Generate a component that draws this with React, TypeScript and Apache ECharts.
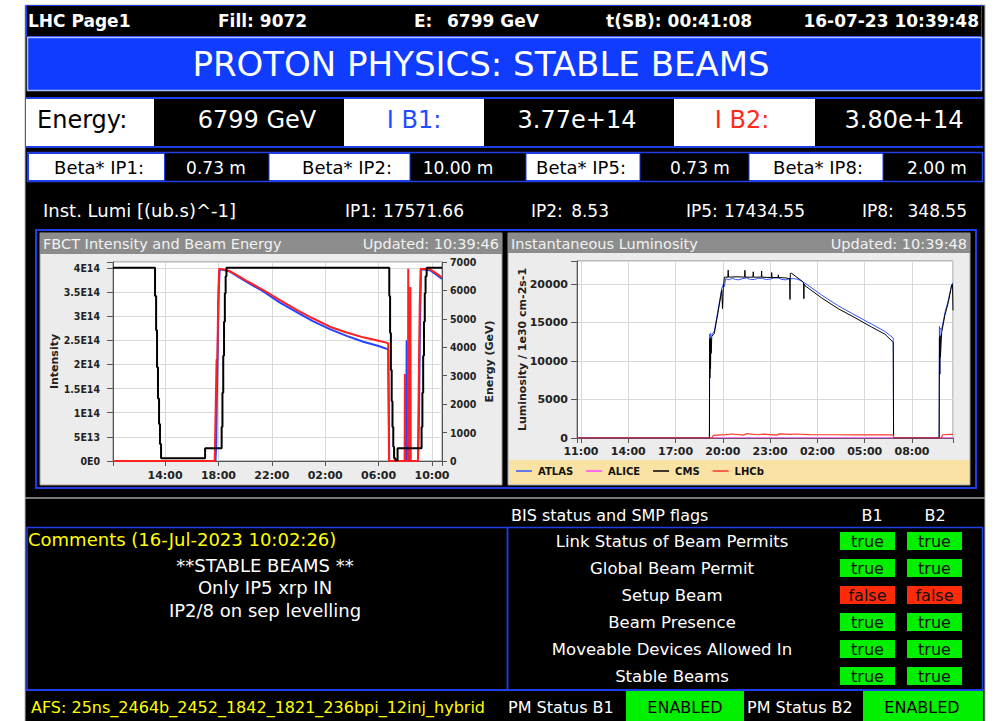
import { useEffect, useRef } from 'react';
import * as echarts from 'echarts';

const FONT = '"DejaVu Sans", "Noto Sans", sans-serif';
const FONT_COND = '"DejaVu Sans Condensed", "DejaVu Sans", sans-serif';
// axis value = hours since 15-Jul-2023 00:00 minus this shift (so that ticks fall on 14:00, 18:00 ... / 11:00, 14:00 ...)
const HOUR_SHIFT = 2;

// ---------------- FBCT intensity & beam energy (hours since 15-Jul 00:00) ----------------
const energyHours = [10.1, 13.25, 13.33, 13.4, 13.47, 13.55, 13.62, 13.7, 17.0, 18.24, 18.3, 18.36, 18.42, 18.48, 18.54, 18.6,
  30.8, 30.86, 30.92, 30.98, 31.04, 31.1, 31.16, 31.25, 31.42, 33.22, 33.28, 33.34, 33.4, 33.46, 33.52, 33.6, 34.75];
const energyGeV = [6799, 5800, 4600, 3300, 2200, 1300, 600, 100, 450, 1200, 2400, 3700, 4900, 5900, 6500, 6799,
  5800, 4500, 3200, 2100, 1200, 500, 100, 30, 450, 1200, 2400, 3700, 4900, 5900, 6500, 6799, 6799];

const b1Hours = [10.1, 17.78, 17.84, 17.88, 17.93, 17.98, 18.03, 18.1, 18.5, 18.86, 20.11, 21.36, 22.61, 23.86, 25.1, 26.35,
  27.6, 28.85, 30.0, 30.72, 30.8, 32.08, 32.1, 32.12, 32.14, 32.95, 33.0, 33.05, 33.1, 33.18, 33.85, 34.3, 34.75];
const b1Intensity = [0, 0, 0.4e14, 1.3e14, 2.0e14, 2.9e14, 3.6e14, 3.97e14, 3.95e14, 3.92e14, 3.71e14, 3.51e14, 3.28e14, 3.08e14, 2.89e14, 2.73e14,
  2.59e14, 2.47e14, 2.38e14, 2.31e14, 0, 0, 2.5e14, 0.8e14, 0, 0, 0.5e14, 1.5e14, 2.8e14, 3.97e14, 3.95e14, 3.86e14, 3.77e14];

const b2Hours = [10.1, 17.72, 17.76, 17.8, 17.86, 17.92, 17.98, 18.05, 18.5, 18.86, 20.11, 21.36, 22.61, 23.86, 25.1, 26.35,
  27.6, 28.85, 30.0, 30.72, 30.78, 31.95, 31.97, 31.99, 32.2, 32.22, 32.25, 32.36, 32.38, 32.41, 32.95, 32.98, 33.02, 33.08,
  33.15, 33.85, 34.3, 34.75];
const b2Intensity = [0, 0, 0.6e14, 0.6e14, 2.1e14, 2.1e14, 3.3e14, 3.98e14, 3.96e14, 3.93e14, 3.73e14, 3.54e14, 3.33e14, 3.13e14, 2.95e14, 2.78e14,
  2.66e14, 2.56e14, 2.49e14, 2.44e14, 0, 0, 1.8e14, 0, 0, 3.98e14, 0, 0, 3.6e14, 0, 0, 0.9e14, 1.9e14, 3.2e14,
  3.98e14, 3.97e14, 3.89e14, 3.80e14];

// ---------------- Instantaneous luminosity (hours since 15-Jul 00:00) ----------------
const atlasHours = [10.75, 19.15, 19.17, 19.19, 19.21, 19.25, 19.3, 19.46, 19.71, 19.93, 20.03, 20.1, 20.18, 20.4, 20.6, 20.8,
  21.0, 21.25, 21.5, 21.75, 22.0, 22.25, 22.5, 22.75, 23.0, 23.25, 23.5, 23.75, 24.0, 24.25, 24.5, 24.7, 24.89, 25.21, 26.27,
  27.32, 28.38, 29.44, 30.28, 30.81, 30.83, 33.72, 33.74, 33.76, 33.78, 33.88, 34.09, 34.3, 34.51, 34.6];
const atlasLumi = [0, 0, 13500, 9000, 13600, 13300, 13400, 13900, 16800, 19400, 19900, 19700, 20700, 20550, 20750, 20600,
  20550, 20700, 20800, 20600, 20600, 20750, 20750, 20600, 20650, 20800, 20800, 20600, 20550, 20700, 20700, 20650, 20500, 20130, 18570,
  17180, 15970, 14800, 13850, 12990, 0, 0, 14500, 8300, 14300, 14100, 16300, 17900, 19900, 20200];

const aliceHours = [10.75, 19.2, 19.25, 30.81, 30.83, 33.75, 33.8, 34.6];
const aliceLumi = [0, 0, 10, 10, 0, 0, 8, 9];

const cmsHours = [10.75, 19.15, 19.16, 19.18, 19.2, 19.22, 19.24, 19.26, 19.3, 19.46, 19.71, 19.93, 19.98, 20.03, 20.1, 20.18,
  20.32, 20.34, 20.36, 20.9, 21.38, 21.4, 21.42, 21.91, 21.93, 21.95, 22.44, 22.46, 22.48, 23.08, 23.1, 23.12, 23.5, 23.52,
  23.54, 24.0, 24.24, 24.26, 24.28, 24.36, 24.89, 25.12, 25.14, 25.16, 25.21, 26.27, 27.32, 28.38, 29.44, 30.28, 30.81, 30.83,
  33.72, 33.74, 33.76, 33.78, 33.8, 33.88, 34.09, 34.3, 34.51, 34.57, 34.6];
const cmsLumi = [0, 0, 12800, 7800, 13000, 9000, 12900, 11000, 13200, 13600, 16500, 19200, 16800, 19500, 20900, 20900,
  20900, 21800, 20900, 20950, 20900, 21800, 20900, 20900, 21600, 20900, 20900, 21700, 20900, 20850, 21500, 20850, 20850, 21200,
  20850, 20800, 20700, 18000, 21400, 21400, 20600, 20200, 18100, 20000, 19800, 18200, 16800, 15630, 14410, 13500, 12420, 0,
  0, 13000, 8300, 13300, 10500, 13700, 16000, 17600, 19800, 20000, 16600];

const lhcbHours = [10.75, 19.3, 19.4, 20.2, 20.6, 21.3, 21.5, 22.2, 22.6, 23.4, 23.6, 24.3, 24.6, 25.5, 27.0, 28.5, 30.0,
  30.81, 30.83, 33.85, 33.95, 34.6];
const lhcbLumi = [0, 0, 350, 450, 520, 380, 560, 420, 500, 380, 540, 470, 520, 430, 420, 410, 400, 400, 0, 0, 420, 480];

// ---------------- page texts ----------------
const topBar = { page: 'LHC Page1', fill: 'Fill: 9072', eLabel: 'E:', eValue: '6799 GeV', tsb: 't(SB): 00:41:08', date: '16-07-23 10:39:48' };
const bannerText = 'PROTON PHYSICS: STABLE BEAMS';
const betaLabels = ['Beta* IP1:', 'Beta* IP2:', 'Beta* IP5:', 'Beta* IP8:'];
const betaValues = ['0.73 m', '10.00 m', '0.73 m', '2.00 m'];
const lumiIPs = ['IP1:', 'IP2:', 'IP5:', 'IP8:'];
const lumiValues = ['17571.66', '8.53', '17434.55', '348.55'];
const commentLines = ['**STABLE BEAMS **', 'Only IP5 xrp IN', 'IP2/8 on sep levelling'];
const flagNames = ['Link Status of Beam Permits', 'Global Beam Permit', 'Setup Beam', 'Beam Presence', 'Moveable Devices Allowed In', 'Stable Beams'];
const flagB1 = [true, true, false, true, true, true];
const flagB2 = [true, true, false, true, true, true];

const BLUE_LINE = '#1f3fe6';
const BANNER = '#0f3cff';
const GREEN = '#00f000';
const RED_BOX = '#ff2a0a';

const R = (x: number, y: number, w: number, h: number, fill: string, stroke?: string, lw = 1) => ({
  type: 'rect', z: -5, silent: true, shape: { x, y, width: w, height: h },
  style: { fill, stroke: stroke || 'none', lineWidth: stroke ? lw : 0 },
});
const L = (x1: number, y1: number, x2: number, y2: number, stroke: string, lw = 1) => ({
  type: 'line', z: -5, silent: true, shape: { x1, y1, x2, y2 }, style: { stroke, lineWidth: lw },
});
const T = (text: string, x: number, y: number, size: number, fill: string, align = 'left', weight = 'normal') => ({
  type: 'text', z: -4, silent: true, x, y,
  style: { text, fill, font: `${weight} ${size}px ${FONT}`, textAlign: align, textVerticalAlign: 'middle', align, verticalAlign: 'middle' },
});

function buildGraphics() {
  const g: any[] = [];
  // frame
  g.push(R(25, 5, 960, 720, '#000', '#bdbdbd', 1));
  // top bar
  g.push(R(26.5, 5.5, 955, 31, '#000', BLUE_LINE, 1));
  g.push(T(topBar.page, 28, 21, 17, '#fff', 'left', 'bold'));
  g.push(T(topBar.fill, 218, 21, 17, '#fff', 'left', 'bold'));
  g.push(T(topBar.eLabel, 414, 21, 17, '#fff', 'left', 'bold'));
  g.push(T(topBar.eValue, 447, 21, 17, '#fff', 'left', 'bold'));
  g.push(T(topBar.tsb, 606, 21, 17, '#fff', 'left', 'bold'));
  g.push(T(topBar.date, 979, 21, 17, '#fff', 'right', 'bold'));
  // banner
  g.push(R(27.5, 37.5, 954, 53, BANNER, '#a8c0ff', 1.5));
  g.push(T(bannerText, 481, 64, 34, '#fff', 'center'));
  // energy / intensity row
  g.push(R(26, 99, 128, 47, '#fff'));
  g.push(R(344, 99, 140, 47, '#fff'));
  g.push(R(674, 99, 141, 47, '#fff'));
  g.push(L(26, 98, 983, 98, BLUE_LINE, 2));
  g.push(L(26, 147, 983, 147, BLUE_LINE, 2));
  g.push(T('Energy:', 37, 120, 24, '#000'));
  g.push(T('6799 GeV', 257, 120, 24, '#fff', 'center'));
  g.push(T('I B1:', 414, 120, 24, '#1f4dff', 'center'));
  g.push(T('3.77e+14', 577, 120, 24, '#fff', 'center'));
  g.push(T('I B2:', 742, 120, 24, '#ff2a1a', 'center'));
  g.push(T('3.80e+14', 904, 120, 24, '#fff', 'center'));
  // beta* row
  g.push(R(27.5, 152.5, 955, 29, '#000', BLUE_LINE, 1.5));
  const betaBoxes = [[28.5, 136], [269, 141], [526, 114], [749, 134]];
  const betaLabelX = [99, 347, 581, 818];
  const betaValueX = [216, 458, 700, 937];
  betaBoxes.forEach(([x, w]) => g.push(R(x, 153.5, w, 27, '#fff', BLUE_LINE, 1)));
  betaLabels.forEach((t, i) => g.push(T(t, betaLabelX[i], 167, 18, '#000', 'center')));
  betaValues.forEach((t, i) => g.push(T(t, betaValueX[i], 168, 17, '#fff', 'center')));
  // inst lumi row
  g.push(T('Inst. Lumi [(ub.s)^-1]', 43, 210, 18, '#fff'));
  const ipX = [345, 531, 686, 862];
  const valRight = [464, 609, 805, 967];
  lumiIPs.forEach((t, i) => g.push(T(t, ipX[i], 211, 17, '#fff')));
  lumiValues.forEach((t, i) => g.push(T(t, valRight[i], 211, 17, '#fff', 'right')));
  // chart panels
  g.push(R(36, 230, 940, 258, 'none', BLUE_LINE, 2));
  g.push(R(40, 233, 462, 252, '#ececec', '#9a9a9a', 1));
  g.push(R(40, 233, 462, 21, '#8c8c8c'));
  g.push(T('FBCT Intensity and Beam Energy', 43, 243.5, 14.5, '#f2f2f2'));
  g.push(T('Updated: 10:39:46', 499, 243.5, 14.5, '#f2f2f2', 'right'));
  g.push(R(508, 233, 462, 252, '#ececec', '#9a9a9a', 1));
  g.push(R(508, 233, 462, 20, '#8c8c8c'));
  g.push(R(509, 460, 460, 24, '#f9e2a4'));
  g.push(T('Instantaneous Luminosity', 511, 243.5, 14.5, '#f2f2f2'));
  g.push(T('Updated: 10:39:48', 967, 243.5, 14.5, '#f2f2f2', 'right'));
  // separator
  g.push(L(25, 498, 985, 498, '#a0a0a0', 1.5));
  // BIS header
  g.push(T('BIS status and SMP flags', 511, 515, 16, '#fff'));
  g.push(T('B1', 872, 515, 16, '#fff', 'center'));
  g.push(T('B2', 935, 515, 16, '#fff', 'center'));
  // comments & flags boxes
  g.push(R(27, 527.5, 480.5, 162.5, 'none', BLUE_LINE, 1.5));
  g.push(R(507.5, 527.5, 475, 162.5, 'none', BLUE_LINE, 1.5));
  g.push(T('Comments (16-Jul-2023 10:02:26)', 28, 539, 18, '#ffff00'));
  commentLines.forEach((t, i) => g.push(T(t, 265, 565 + i * 22.5, 18, '#fff', 'center')));
  flagNames.forEach((name, i) => {
    const y = 541 + i * 27;
    g.push(T(name, 672, y, 16.5, '#fff', 'center'));
    [flagB1[i], flagB2[i]].forEach((v, j) => {
      const bx = j === 0 ? 840 : 907;
      g.push(R(bx, y - 9, 55, 18, v ? GREEN : RED_BOX));
      g.push(T(v ? 'true' : 'false', bx + 27.5, y, 16, '#111', 'center'));
    });
  });
  // footer
  g.push(L(26, 690, 984, 690, BLUE_LINE, 2));
  g.push(R(626, 691, 118, 30, GREEN));
  g.push(R(863, 691, 120, 30, GREEN));
  g.push(T('AFS: 25ns_2464b_2452_1842_1821_236bpi_12inj_hybrid', 31, 707, 16, '#ffff00'));
  g.push(T('PM Status B1', 508, 707, 16, '#fff'));
  g.push(T('ENABLED', 685, 707, 16, '#000', 'center'));
  g.push(T('PM Status B2', 747, 707, 16, '#fff'));
  g.push(T('ENABLED', 922, 707, 16, '#000', 'center'));
  return g;
}

const pts = (hours: number[], vals: number[]) => hours.map((h, i) => [h - HOUR_SHIFT, vals[i]]);
const hourLabel = (step: number) => (v: number) => {
  if (Math.abs(v - Math.round(v / step) * step) > 1e-6) return '';
  const hh = ((Math.round(v) + HOUR_SHIFT) % 24 + 24) % 24;
  return `${hh < 10 ? '0' : ''}${hh}:00`;
};
const intensityLabel = (v: number) => {
  if (v > 4e14 + 1) return '';
  if (v === 0) return '0E0';
  const e = Math.floor(Math.log10(v) + 1e-9);
  const m = parseFloat((v / Math.pow(10, e)).toFixed(2));
  return `${m}E${e}`;
};

const axisText = { fontFamily: FONT, fontSize: 11, fontWeight: 'bold' as const, color: '#222' };
const condText = { fontFamily: FONT_COND, fontSize: 10.5, fontWeight: 'bold' as const, color: '#222' };
const splitLine = { show: true, lineStyle: { color: '#d9d9d9', width: 1 } };
const axisLine = { show: true, lineStyle: { color: '#555', width: 1 } };

function buildOption(): any {
  const line = (name: string, h: number[], v: number[], xi: number, yi: number, color: string, width: number, extra: any = {}) => ({
    name, type: 'line', xAxisIndex: xi, yAxisIndex: yi, symbol: 'none', silent: true,
    data: pts(h, v), lineStyle: { color, width }, itemStyle: { color }, ...extra,
  });
  return {
    animation: false,
    backgroundColor: '#ffffff',
    graphic: { elements: buildGraphics() },
    grid: [
      { left: 113, top: 262, width: 329, height: 199, show: true, backgroundColor: '#fff', borderColor: '#8a8a8a', borderWidth: 1, containLabel: false, outerBoundsMode: 'none' },
      { left: 577, top: 261, width: 376, height: 177, show: true, backgroundColor: '#fff', borderColor: '#8a8a8a', borderWidth: 1, containLabel: false, outerBoundsMode: 'none' },
    ],
    xAxis: [
      { type: 'value', gridIndex: 0, min: 10.1 - HOUR_SHIFT, max: 34.75 - HOUR_SHIFT, minInterval: 4, maxInterval: 4,
        axisLine, axisTick: { show: true, length: 5, lineStyle: { color: '#555' } }, splitLine,
        axisLabel: { ...axisText, margin: 9, formatter: hourLabel(4) } },
      { type: 'value', gridIndex: 1, min: 10.75 - HOUR_SHIFT, max: 34.6 - HOUR_SHIFT, minInterval: 3, maxInterval: 3,
        axisLine, axisTick: { show: true, length: 5, lineStyle: { color: '#555' } }, splitLine,
        axisLabel: { ...axisText, margin: 8, formatter: hourLabel(3) } },
    ],
    yAxis: [
      { type: 'value', gridIndex: 0, min: 0, max: 4.12e14, interval: 5e13, position: 'left',
        name: 'Intensity', nameLocation: 'middle', nameGap: 53, nameMoveOverlap: false, nameTextStyle: { ...axisText },
        axisLine, axisTick: { show: true, length: 6, lineStyle: { color: '#555' } }, splitLine,
        axisLabel: { ...condText, margin: 13, formatter: intensityLabel } },
      { type: 'value', gridIndex: 0, min: 0, max: 7000, interval: 1000, position: 'right',
        name: 'Energy (GeV)', nameLocation: 'middle', nameGap: 42, nameMoveOverlap: false, nameTextStyle: { ...axisText },
        axisLine, axisTick: { show: true, length: 5, lineStyle: { color: '#555' } }, splitLine: { show: false },
        axisLabel: { ...condText, margin: 8, formatter: (v: number) => String(v) } },
      { type: 'value', gridIndex: 1, min: 0, max: 23000, interval: 5000,
        name: 'Luminosity / 1e30 cm-2s-1', nameLocation: 'middle', nameGap: 49, nameMoveOverlap: false, nameTextStyle: { ...axisText },
        axisLine, axisTick: { show: true, length: 6, lineStyle: { color: '#555' } }, splitLine,
        axisLabel: { ...axisText, margin: 9, formatter: (v: number) => (v > 20000 ? '' : String(v)) } },
    ],
    legend: {
      data: ['ATLAS', 'ALICE', 'CMS', 'LHCb'], left: 516, top: 466, padding: 0, icon: 'rect', itemWidth: 16, itemHeight: 1.5,
      itemGap: 13, selectedMode: false, textStyle: { fontFamily: FONT, fontSize: 10, fontWeight: 'bold', color: '#111', padding: [0, 0, 0, 1] },
    },
    series: [
      line('I B1', b1Hours, b1Intensity, 0, 0, '#2444ff', 2),
      line('I B2', b2Hours, b2Intensity, 0, 0, '#ff2020', 2),
      line('Energy', energyHours, energyGeV, 0, 1, '#000000', 2, { step: 'end' }),
      line('ATLAS', atlasHours, atlasLumi, 1, 2, '#3355ff', 1),
      line('ALICE', aliceHours, aliceLumi, 1, 2, '#ff44ff', 1),
      line('CMS', cmsHours, cmsLumi, 1, 2, '#000000', 1),
      line('LHCb', lhcbHours, lhcbLumi, 1, 2, '#ff3a2a', 1.2),
    ],
  };
}

export default function App() {
  const ref = useRef<HTMLDivElement>(null);
  useEffect(() => {
    if (!ref.current) return;
    const chart = echarts.init(ref.current, null, { renderer: 'svg' });
    chart.setOption(buildOption());
    return () => chart.dispose();
  }, []);
  return <div ref={ref} style={{ position: 'absolute', left: 0, top: 0, width: 995, height: 721 }} />;
}
